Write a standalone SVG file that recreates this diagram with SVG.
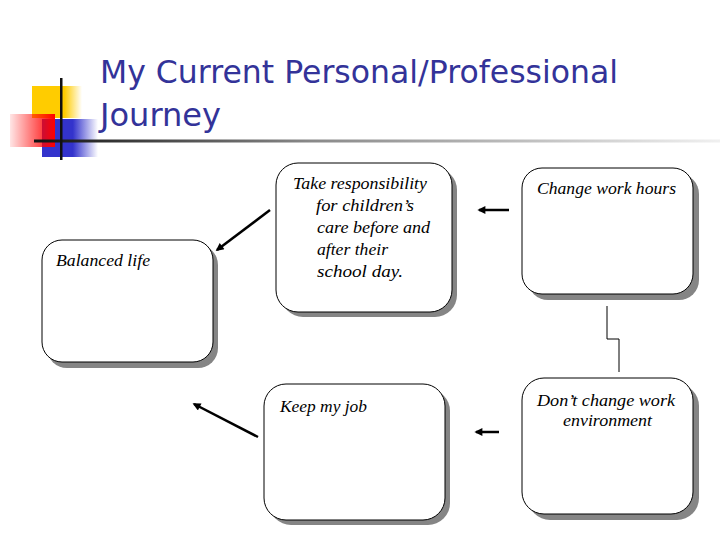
<svg xmlns="http://www.w3.org/2000/svg" width="720" height="540" viewBox="0 0 720 540">
<style>
.title{font-family:Tahoma,"DejaVu Sans","Liberation Sans",sans-serif;font-size:32px;fill:#333399}
.lbl{font-family:"Liberation Serif","DejaVu Serif",serif;font-style:italic;font-size:16px;fill:#000}
.box{fill:#fff;stroke:#000;stroke-width:1}
.shadow{fill:#858585}
.arrow{stroke:#000;stroke-width:2.5;fill:none;marker-end:url(#ah)}
.thin{stroke:#000;stroke-width:1;fill:none}
</style>
<defs>
<marker id="ah" viewBox="0 0 10 10" refX="8" refY="5" markerWidth="4" markerHeight="3.2" orient="auto" markerUnits="strokeWidth">
<path d="M0,0 L10,5 L0,10 z" fill="#000"/>
</marker>
<linearGradient id="gy" x1="0" y1="0" x2="1" y2="0">
<stop offset="0" stop-color="#ffcc00"/><stop offset="0.65" stop-color="#ffcc00"/><stop offset="1" stop-color="#ffcc00" stop-opacity="0"/>
</linearGradient>
<linearGradient id="gr" x1="0" y1="0" x2="1" y2="0">
<stop offset="0" stop-color="#ff0000" stop-opacity="0.1"/><stop offset="1" stop-color="#ff0000"/>
</linearGradient>
<linearGradient id="gb" x1="0" y1="0" x2="1" y2="0">
<stop offset="0" stop-color="#3333cc"/><stop offset="0.55" stop-color="#3333cc"/><stop offset="1" stop-color="#3333cc" stop-opacity="0"/>
</linearGradient>
<linearGradient id="gl" x1="34" y1="0" x2="720" y2="0" gradientUnits="userSpaceOnUse">
<stop offset="0" stop-color="#111"/><stop offset="0.4" stop-color="#888"/><stop offset="1" stop-color="#f0f0f0"/>
</linearGradient>
</defs>
<rect width="720" height="540" fill="#fff"/>
<g id="logo">
<rect x="32" y="86" width="50" height="32" fill="url(#gy)"/>
<rect x="42" y="119" width="56" height="38" fill="url(#gb)"/>
<rect x="10" y="114" width="45" height="33" fill="url(#gr)"/>
<rect x="34" y="139.5" width="686" height="3" fill="url(#gl)"/>
<rect x="60" y="78" width="2.5" height="82" fill="#111"/>
</g>
<g id="title">
<text class="title" x="100" y="83" textLength="518" lengthAdjust="spacingAndGlyphs">My Current Personal/Professional</text>
<text class="title" x="100" y="126" textLength="121" lengthAdjust="spacingAndGlyphs">Journey</text>
</g>
<g id="connectors">
<line class="arrow" x1="270" y1="210" x2="217" y2="250"/>
<line class="arrow" x1="509" y1="210" x2="479" y2="210"/>
<polyline class="thin" points="607,306 607,339 619,339 619,372"/>
<line class="arrow" x1="258" y1="437" x2="194" y2="404"/>
<line class="arrow" x1="499" y1="432" x2="476" y2="432"/>
</g>
<g id="balanced-life">
<rect class="shadow" x="47" y="245" width="171" height="123" rx="20"/>
<rect class="box" x="42" y="240" width="171" height="122" rx="20"/>
<text class="lbl" x="56" y="266" textLength="94" lengthAdjust="spacingAndGlyphs">Balanced life</text>
</g>
<g id="take-responsibility">
<rect class="shadow" x="281" y="168" width="176" height="149" rx="22"/>
<rect class="box" x="276" y="163" width="176" height="149" rx="22"/>
<text class="lbl" x="293" y="189" textLength="134" lengthAdjust="spacingAndGlyphs">Take responsibility</text>
<text class="lbl" x="316" y="211" textLength="98" lengthAdjust="spacingAndGlyphs">for children’s</text>
<text class="lbl" x="317" y="233" textLength="113" lengthAdjust="spacingAndGlyphs">care before and</text>
<text class="lbl" x="317" y="255" textLength="71" lengthAdjust="spacingAndGlyphs">after their</text>
<text class="lbl" x="317" y="277" textLength="86" lengthAdjust="spacingAndGlyphs">school day.</text>
</g>
<g id="change-work-hours">
<rect class="shadow" x="528" y="174" width="171" height="126" rx="20"/>
<rect class="box" x="522" y="168" width="171" height="126" rx="20"/>
<text class="lbl" x="537" y="194" textLength="139" lengthAdjust="spacingAndGlyphs">Change work hours</text>
</g>
<g id="keep-my-job">
<rect class="shadow" x="269" y="389" width="181" height="136" rx="22"/>
<rect class="box" x="264" y="384" width="181" height="136" rx="22"/>
<text class="lbl" x="280" y="412" textLength="87" lengthAdjust="spacingAndGlyphs">Keep my job</text>
</g>
<g id="dont-change">
<rect class="shadow" x="528" y="384" width="171" height="136" rx="22"/>
<rect class="box" x="522" y="378" width="171" height="136" rx="22"/>
<text class="lbl" x="537" y="406" textLength="138" lengthAdjust="spacingAndGlyphs">Don’t change work</text>
<text class="lbl" x="563" y="426" textLength="89" lengthAdjust="spacingAndGlyphs">environment</text>
</g>
</svg>
